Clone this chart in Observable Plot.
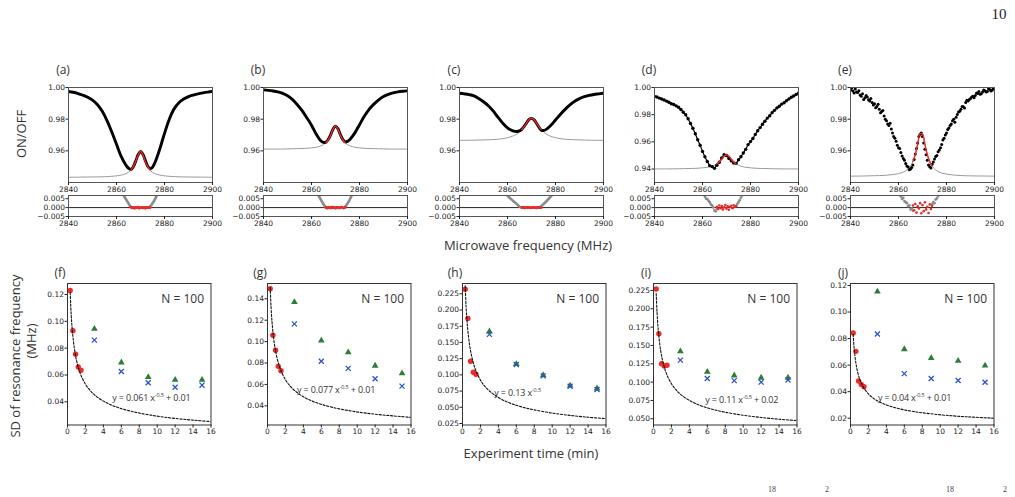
<!DOCTYPE html>
<html><head><meta charset="utf-8">
<script src="https://cdn.jsdelivr.net/npm/d3@7"></script>
<script src="https://cdn.jsdelivr.net/npm/@observablehq/plot@0.6"></script>
<style>
body{margin:0;background:#fff;}
#root{position:relative;width:1015px;height:497px;overflow:hidden;background:#fff;font-family:"Open Sans",sans-serif;color:#333;}
.lbl{position:absolute;white-space:nowrap;line-height:1;}
</style></head><body><div id="root"></div>
<script>
// ---------------- DATA ----------------
const panelTop = ["(a)", "(b)", "(c)", "(d)", "(e)"];
const panelBot = ["(f)", "(g)", "(h)", "(i)", "(j)"];

// ODMR spectra (ON/OFF)
const freqABC = [2840,2842,2844,2846,2848,2850,2852,2854,2856,2858,2860,2862,2864,2865,2866,2867,2868,2869,2870,2871,2872,2873,2874,2875,2876,2878,2880,2882,2884,2886,2888,2890,2892,2894,2896,2898,2900];
const onoffA = [.9975,.9970,.9962,.9951,.9938,.9920,.9893,.9851,.9793,.9720,.9641,.9563,.9508,.9490,.9482,.9500,.9535,.9575,.9596,.9578,.9540,.9503,.9488,.9497,.9525,.9610,.9710,.9800,.9865,.9904,.9927,.9942,.9952,.9960,.9966,.9971,.9975];
const onoffB = [.9985,.9982,.9978,.9972,.9963,.9948,.9925,.9893,.9855,.9810,.9762,.9705,.9662,.9653,.9655,.9672,.9702,.9738,.9756,.9740,.9704,.9672,.9657,.9660,.9672,.9712,.9765,.9818,.9862,.9895,.9922,.9943,.9957,.9966,.9972,.9976,.9979];
const onoffC = [.9964,.9960,.9955,.9947,.9930,.9910,.9885,.9852,.9813,.9775,.9745,.9728,.9722,.9726,.9737,.9756,.9778,.9798,.9805,.9797,.9776,.9752,.9732,.9728,.9734,.9760,.9795,.9830,.9862,.9890,.9913,.9930,.9942,.9950,.9956,.9960,.9964];
const freq1 = [2840,2841,2842,2843,2844,2845,2846,2847,2848,2849,2850,2851,2852,2853,2854,2855,2856,2857,2858,2859,2860,2861,2862,2863,2864,2865,2866,2867,2868,2869,2870,2871,2872,2873,2874,2875,2876,2877,2878,2879,2880,2881,2882,2883,2884,2885,2886,2887,2888,2889,2890,2891,2892,2893,2894,2895,2896,2897,2898,2899,2900];
const onoffD = [.9935,.9930,.9922,.9915,.9908,.9900,.9892,.9880,.9875,.9865,
  .9855,.9838,.9818,.9800,.9770,.9735,.9700,.9660,.9615,.9575,
  .9530,.9490,.9455,.9425,.9418,.9405,.9428,.9450,.9482,.9505,
  .9500,.9478,.9460,.9445,.9442,.9468,.9490,.9518,.9545,.9580,
  .9602,.9625,.9655,.9682,.9705,.9730,.9752,.9775,.9792,.9815,
  .9832,.9850,.9862,.9878,.9888,.9902,.9915,.9928,.9938,.9948,.9958];
const onoffE = [.9985,.9978,.9990,.9968,.9952,.9960,.9935,.9940,.9915,.9905,
  .9898,.9880,.9862,.9848,.9820,.9790,.9760,.9738,.9690,.9660,
  .9620,.9590,.9552,.9520,.9498,.9485,.9510,.9580,.9650,.9705,
  .9690,.9610,.9540,.9500,.9515,.9548,.9570,.9605,.9640,.9680,
  .9712,.9745,.9770,.9800,.9812,.9845,.9862,.9878,.9905,.9915,
  .9930,.9945,.9950,.9962,.9958,.9972,.9980,.9975,.9988,.9982,.9990];
const freqHalf = [2840.5,2841.5,2842.5,2843.5,2844.5,2845.5,2846.5,2847.5,2848.5,2849.5,2850.5,2851.5,2852.5,2853.5,2854.5,2855.5,2856.5,2857.5,2858.5,2859.5,2860.5,2861.5,2862.5,2863.5,2864.5,2865.5,2866.5,2867.5,2868.5,2869.5,2870.5,2871.5,2872.5,2873.5,2874.5,2875.5,2876.5,2877.5,2878.5,2879.5,2880.5,2881.5,2882.5,2883.5,2884.5,2885.5,2886.5,2887.5,2888.5,2889.5,2890.5,2891.5,2892.5,2893.5,2894.5,2895.5,2896.5,2897.5,2898.5,2899.5];
const onoffE2 = [.9995,.9965,.9972,.9980,.9945,.9925,.9950,.9922,.9930,.9890,
  .9872,.9895,.9840,.9855,.9800,.9770,.9775,.9712,.9680,.9635,
  .9615,.9568,.9540,.9505,.9480,.9495,.9545,.9615,.9690,.9712,
  .9650,.9575,.9510,.9492,.9530,.9565,.9595,.9620,.9668,.9700,
  .9735,.9760,.9790,.9780,.9830,.9850,.9880,.9870,.9920,.9925,
  .9940,.9935,.9965,.9975,.9960,.9985,.9972,.9992,.9978,.9995];

// grey Lorentzian fit curves
const grayFreq = [2840,2845,2850,2854,2857,2860,2862,2864,2866,2868,2869,2870,2871,2872,2874,2876,2878,2880,2883,2886,2890,2895,2900];
const grayA = [.9433,.9434,.9435,.9436,.9438,.9442,.9447,.9456,.9478,.9533,.9574,.9597,.9574,.9533,.9478,.9456,.9447,.9442,.9438,.9436,.9435,.9434,.9433];
const grayB = [.9611,.9611,.9612,.9614,.9615,.9619,.9623,.9632,.9651,.9700,.9737,.9757,.9737,.9700,.9651,.9632,.9623,.9619,.9615,.9614,.9612,.9611,.9611];
const grayC = [.9666,.9667,.9669,.9671,.9675,.9683,.9692,.9707,.9735,.9777,.9798,.9806,.9798,.9777,.9735,.9707,.9692,.9683,.9675,.9671,.9669,.9667,.9666];
const grayD = [.9401,.9401,.9402,.9404,.9405,.9409,.9413,.9421,.9438,.9472,.9495,.9505,.9495,.9472,.9438,.9421,.9413,.9409,.9405,.9404,.9402,.9401,.9401];
const grayE = [.9440,.9441,.9443,.9445,.9449,.9456,.9466,.9486,.9532,.9642,.9708,.9706,.9642,.9577,.9504,.9474,.9460,.9453,.9447,.9444,.9442,.9441,.9440];

// red fit of the central peak
const redFreq = [2866,2867,2868,2869,2870,2871,2872,2873,2874];
const redA = [.9478,.9500,.9533,.9574,.9597,.9574,.9533,.9500,.9478];
const redB = [.9651,.9670,.9700,.9737,.9757,.9737,.9700,.9670,.9651];
const redC = [.9735,.9755,.9777,.9798,.9806,.9798,.9777,.9755,.9735];
const redD = [.9438,.9453,.9472,.9495,.9505,.9495,.9472,.9453,.9438];
const redE = [.9532,.9577,.9642,.9708,.9706,.9642,.9577,.9532,.9504];

// residuals
const resLFreq = [2859,2859.5,2860,2860.5,2861,2861.5,2862,2862.5,2863,2863.5,2864,2864.5,2865,2865.5,2866];
const resRFreq = [2874,2874.5,2875,2875.5,2876,2876.5,2877,2877.5,2878,2878.5,2879,2879.5,2880,2880.5,2881];
const resRedFreq = [2866,2866.5,2867,2867.5,2868,2868.5,2869,2869.5,2870,2870.5,2871,2871.5,2872,2872.5,2873,2873.5,2874];
const resLA = [.020,.018,.016,.014,.012,.0105,.009,.0078,.0068,.0057,.0046,.0035,.0024,.0012,.0003];
const resRA = [.0006,.0014,.0024,.0034,.0046,.0060,.0074,.0090,.0105,.012,.014,.016,.018,.020,.022];
const resLB = [.020,.018,.016,.014,.012,.0105,.009,.0078,.0066,.0054,.0042,.0030,.0019,.0009,.0002];
const resRB = [.0005,.0013,.0023,.0034,.0047,.0061,.0076,.0090,.0105,.012,.014,.016,.018,.020,.022];
const resLC = [.0078,.0072,.0066,.0060,.0054,.0048,.0042,.0036,.0030,.0024,.0018,.0012,.0006,.0002,.0000];
const resRC = [.0008,.0014,.0020,.0026,.0033,.0040,.0047,.0054,.0062,.0070,.0078,.0086,.0094,.0102,.0110];
const resLD = [.012,.010,.0088,.0075,.0062,.0050,.0047,.0038,.0030,.0018,.0012,.0001,-.0016,-.0021,-.0008];
const resRD = [.0010,.0020,.0030,.0042,.0056,.0068,.0085,.010,.012,.014,.016,.018,.020,.022,.024];
const resLE = [.011,.0095,.0085,.0072,.0062,.0048,.0055,.0036,.0030,.0025,.0008,.0012,-.0010,-.0005,-.0018];
const resRE = [.0018,.0030,.0025,.0045,.0052,.0065,.0078,.009,.011,.013,.015,.017,.019,.021,.023];
const resRedA = [.0003,-.0002,.0001,-.0004,.0002,-.0001,.0003,-.0003,.0000,.0002,-.0002,.0001,-.0003,.0002,-.0001,.0002,.0000];
const resRedB = [.0001,-.0003,.0002,.0000,-.0002,.0003,-.0001,.0002,-.0003,.0001,.0002,-.0002,.0000,.0003,-.0001,-.0002,.0001];
const resRedC = [.0000,.0002,-.0002,.0001,-.0001,.0002,.0000,-.0002,.0001,-.0001,.0002,.0000,-.0002,.0001,.0001,-.0001,.0000];
const resRedD = [.0005,-.0008,.0012,-.0003,.0009,-.0010,.0002,.0014,-.0006,.0007,-.0012,.0004,.0010,-.0004,.0013,.0006,.0008];
const resRedE = [.0012,-.0015,.0020,-.0028,.0008,-.0005,.0025,-.0032,.0015,-.0020,.0030,-.0010,.0005,-.0030,.0018,-.0008,.0010];

// SD of resonance frequency vs experiment time
const redTimes = [0.3, 0.6, 0.9, 1.2, 1.5];
const gbTimes = [3, 6, 9, 12, 15];
const sdRed = [[.123,.093,.0755,.066,.0635],[.1494,.1059,.0919,.0769,.0728],[.232,.187,.121,.104,.101],[.227,.166,.125,.122,.123],[.0842,.0704,.0481,.0455,.0437]];
const sdGreen = [[.0944,.0693,.0584,.0564,.0564],[.1369,.1009,.090,.0775,.0703],[.1669,.1165,.0995,.0835,.079],[.142,.114,.109,.106,.106],[.1154,.072,.0654,.0632,.0597]];
const sdBlue = [[.086,.0626,.0542,.0509,.0524],[.1166,.0816,.075,.0653,.0584],[.1624,.116,.0985,.0825,.0775],[.130,.105,.102,.100,.103],[.0835,.0536,.0499,.0484,.0471]];
// fitted curves (values of the equations printed in each panel)
const fitX = [0.3,0.4,0.5,0.6,0.8,1,1.25,1.5,2,2.5,3,4,5,6,7,8,10,12,14,16];
const fitF = [.1214,.1064,.0963,.0888,.0782,.071,.0646,.0598,.0531,.0486,.0452,.0405,.0373,.0349,.0331,.0316,.0293,.0276,.0263,.02525];
const fitG = [.1506,.1317,.1189,.1094,.0961,.087,.0789,.0729,.0644,.0587,.0545,.0485,.0444,.0414,.0391,.0372,.0343,.0322,.0306,.02925];
const fitH = [.2373,.2055,.1838,.1678,.1453,.13,.1163,.1061,.0919,.0822,.0751,.065,.0581,.0531,.0491,.046,.0411,.0375,.0347,.0325];
const fitI = [.2208,.1939,.1756,.162,.143,.13,.1184,.1098,.0978,.0896,.0835,.075,.0692,.0649,.0616,.0589,.0548,.0518,.0494,.0475];
const fitJ = [.083,.0732,.0666,.0616,.0547,.05,.0458,.0427,.0383,.0353,.0331,.03,.0279,.0263,.0251,.0241,.0226,.0215,.0207,.02];
const eqMain = ["y = 0.061 x", "y = 0.077 x", "y = 0.13 x", "y = 0.11 x", "y = 0.04 x"];
const eqExp = "-0.5";
const eqTail = [" + 0.01", " + 0.01", "", " + 0.02", " + 0.01"];
const eqPos = [[9.4,.0435],[7.7,.0553],[6.2,.073],[9.9,.076],[7.2,.0358]];
const nLabel = "N = 100";

// ticks
const topXTicks = [2840, 2860, 2880, 2900];
const topYTicks = [[.96,.98,1.0],[.96,.98,1.0],[.96,.98,1.0],[.94,.96,.98,1.0],[.96,.98,1.0]];
const resYTicks = [-0.005, 0, 0.005];
const botXTicks = [0,2,4,6,8,10,12,14,16];
const botYTicks = [[.04,.06,.08,.10,.12],[.04,.06,.08,.10,.12,.14],[.025,.05,.075,.1,.125,.15,.175,.2,.225],[.05,.075,.1,.125,.15,.175,.2,.225],[.02,.04,.06,.08,.10,.12]];
const botYDigits = [2,2,3,3,2];

// ---------------- LAYOUT ----------------
const root = document.getElementById("root");
const onoff = [onoffA, onoffB, onoffC, onoffD, onoffE];
const grays = [grayA, grayB, grayC, grayD, grayE];
const reds = [redA, redB, redC, redD, redE];
const resL = [resLA, resLB, resLC, resLD, resLE];
const resR = [resRA, resRB, resRC, resRD, resRE];
const resRed = [resRedA, resRedB, resRedC, resRedD, resRedE];
const fits = [fitF, fitG, fitH, fitI, fitJ];

const topLeft = [68, 263, 459, 654, 850];
const botLeft = [67, 267, 462, 653, 850];
const topYDom = [[.94,1.0],[.94,1.0],[.94,1.0],[.9301,1.0],[.94,1.0]];
const botYDom = [[.0227,.1282],[.0221,.1543],[.0227,.2409],[.0415,.2345],[.0149,.1215]];
const RED = "#ec2a26", GREEN = "#2e7d36", BLUE = "#2b55c4";
const baseStyle = {fontFamily: "DejaVu Sans", fontSize: "7.5px", color: "#222", background: "transparent", overflow: "visible"};

function mount(plot, fl, ft, mL, mT) {
  plot.style.position = "absolute";
  plot.style.left = (fl - mL) + "px";
  plot.style.top = (ft - mT) + "px";
  root.appendChild(plot);
  return plot;
}
function label(html, x, y, css) {
  const d = document.createElement("div");
  d.className = "lbl";
  d.innerHTML = html;
  d.style.left = x + "px"; d.style.top = y + "px";
  d.style.transform = "translate(-50%,-50%)" + (css.rotate ? " rotate(-90deg)" : "");
  Object.assign(d.style, css.style || {});
  root.appendChild(d);
  return d;
}
const fmtRes = d => d === 0 ? "0.000" : (d < 0 ? "\u2212" : "") + Math.abs(d).toFixed(3);

for (let i = 0; i < 5; i++) {
  // main ODMR panel
  const mL = 40, mR = 8, mT = 3, mB = 18, W = 144, H = 95;
  const marks = [
    Plot.line(grayFreq, {x: grayFreq, y: grays[i], stroke: "#9a9a9a", strokeWidth: 1, curve: "catmull-rom", clip: true})
  ];
  if (i < 3) {
    marks.push(Plot.line(freqABC, {x: freqABC, y: onoff[i], stroke: "#000", strokeWidth: 2.9, curve: "catmull-rom", clip: true}));
  } else if (i === 3) {
    marks.push(Plot.line(freq1, {x: freq1, y: onoffD, stroke: "#000", strokeWidth: 1.2, clip: true}));
    marks.push(Plot.dot(freq1, {x: freq1, y: onoffD, r: 1.7, fill: "#000", clip: true}));
  } else {
    marks.push(Plot.dot(freq1, {x: freq1, y: onoffE, r: 1.5, fill: "#000", clip: true}));
    marks.push(Plot.dot(freqHalf, {x: freqHalf, y: onoffE2, r: 1.5, fill: "#000", clip: true}));
  }
  marks.push(Plot.line(redFreq, {x: redFreq, y: reds[i], stroke: RED, strokeWidth: 1.4, curve: "catmull-rom", clip: true}));
  marks.push(Plot.frame({stroke: "#555", strokeWidth: 1}));
  marks.push(Plot.axisX({ticks: topXTicks, tickSize: 3, tickPadding: 1, tickFormat: d => String(d), label: null}));
  marks.push(Plot.axisY({ticks: topYTicks[i], tickSize: 2.5, tickPadding: 1, tickFormat: d => d.toFixed(2), label: null}));
  const p = Plot.plot({width: mL + W + mR, height: mT + H + mB, marginLeft: mL, marginRight: mR, marginTop: mT, marginBottom: mB,
    style: baseStyle, x: {domain: [2840, 2900]}, y: {domain: topYDom[i]}, marks});
  mount(p, topLeft[i], 86.7, mL, mT);

  // residual panel
  const rH = 21, rmB = 16;
  const rmarks = [Plot.ruleY([0], {stroke: "#222", strokeWidth: 1})];
  if (i < 3) {
    rmarks.push(Plot.line(resLFreq, {x: resLFreq, y: resL[i], stroke: "#8a8a8a", strokeWidth: 2.6, clip: true}));
    rmarks.push(Plot.line(resRFreq, {x: resRFreq, y: resR[i], stroke: "#8a8a8a", strokeWidth: 2.6, clip: true}));
    rmarks.push(Plot.line(resRedFreq, {x: resRedFreq, y: resRed[i], stroke: RED, strokeWidth: 2.4, clip: true}));
  } else {
    rmarks.push(Plot.dot(resLFreq, {x: resLFreq, y: resL[i], r: 1.4, fill: "#8a8a8a", clip: true}));
    rmarks.push(Plot.dot(resRFreq, {x: resRFreq, y: resR[i], r: 1.4, fill: "#8a8a8a", clip: true}));
  }
  rmarks.push(Plot.dot(resRedFreq, {x: resRedFreq, y: resRed[i], r: 1.3, fill: RED, clip: true}));
  rmarks.push(Plot.frame({stroke: "#555", strokeWidth: 1}));
  rmarks.push(Plot.axisX({ticks: topXTicks, tickSize: 3, tickPadding: 1, tickFormat: d => String(d), label: null}));
  rmarks.push(Plot.axisY({ticks: resYTicks, tickSize: 2.5, tickPadding: 1, tickFormat: fmtRes, label: null}));
  const rp = Plot.plot({width: mL + W + mR, height: mT + rH + rmB, marginLeft: mL, marginRight: mR, marginTop: mT, marginBottom: rmB,
    style: baseStyle, x: {domain: [2840, 2900]}, y: {domain: [-0.005, 0.0068]}, marks: rmarks});
  mount(rp, topLeft[i], 195, mL, mT);

  label(panelTop[i], topLeft[i] - 5, 70, {style: {fontSize: "12px", color: "#333"}});

  // SD panel
  const bmL = 36, bmR = 8, bmT = 3, bmB = 18, bW = 143.5, bH = 141.5;
  const bp = Plot.plot({width: bmL + bW + bmR, height: bmT + bH + bmB, marginLeft: bmL, marginRight: bmR, marginTop: bmT, marginBottom: bmB,
    style: baseStyle, x: {domain: [0, 16]}, y: {domain: botYDom[i]},
    marks: [
      Plot.dot(gbTimes, {x: gbTimes, y: sdGreen[i], symbol: "triangle", r: 2.5, fill: GREEN}),
      Plot.dot(gbTimes, {x: gbTimes, y: sdBlue[i], symbol: "times", r: 2.4, stroke: BLUE, strokeWidth: 1.3}),
      Plot.dot(redTimes, {x: redTimes, y: sdRed[i], r: 2.7, fill: RED}),
      Plot.line(fitX, {x: fitX, y: fits[i], stroke: "#111", strokeWidth: 1.1, strokeDasharray: "2.2,1.6", curve: "catmull-rom", clip: true}),
      Plot.text([nLabel], {frameAnchor: "top-right", dx: -7, dy: 11, fontSize: 12, fontFamily: "Open Sans", fill: "#333", textAnchor: "end"}),
      Plot.frame({stroke: "#333", strokeWidth: 1}),
      Plot.axisX({ticks: botXTicks, tickSize: 3, tickPadding: 1, tickFormat: d => String(d), label: null}),
      Plot.axisY({ticks: botYTicks[i], tickSize: 2.5, tickPadding: 1, tickFormat: d => d.toFixed(botYDigits[i]), label: null})
    ]});
  mount(bp, botLeft[i], 283, bmL, bmT);
  const sx = bp.scale("x"), sy = bp.scale("y");
  const ex = botLeft[i] - bmL + sx.apply(eqPos[i][0]);
  const ey = 283 - bmT + sy.apply(eqPos[i][1]);
  label(eqMain[i] + '<span style="font-size:5.5px;vertical-align:4px">' + eqExp + '</span>' + eqTail[i], ex, ey,
    {style: {fontSize: "9px", color: "#333", letterSpacing: "-0.15px"}});
  label(panelBot[i], botLeft[i] - 7, 273, {style: {fontSize: "12px", color: "#333"}});
}

// axis titles and page text
label("ON/OFF", 21, 134, {rotate: true, style: {fontSize: "13px", color: "#333"}});
label("SD of resonance frequency", 15, 356, {rotate: true, style: {fontSize: "13px", color: "#333"}});
label("(MHz)", 31, 341, {rotate: true, style: {fontSize: "13px", color: "#333"}});
label("Microwave frequency (MHz)", 528, 245, {style: {fontSize: "13px", color: "#333"}});
label("Experiment time (min)", 531, 453, {style: {fontSize: "13px", color: "#333"}});
label("10", 999, 14, {style: {fontSize: "15px", color: "#222", fontFamily: "Liberation Serif"}});
const fragText = ["18", "2", "18", "2"];
const fragX = [772, 827, 950, 1005];
fragText.forEach((t, k) => label(t, fragX[k], 490, {style: {fontSize: "8px", color: "#444", fontFamily: "Liberation Serif"}}));
</script></body></html>
